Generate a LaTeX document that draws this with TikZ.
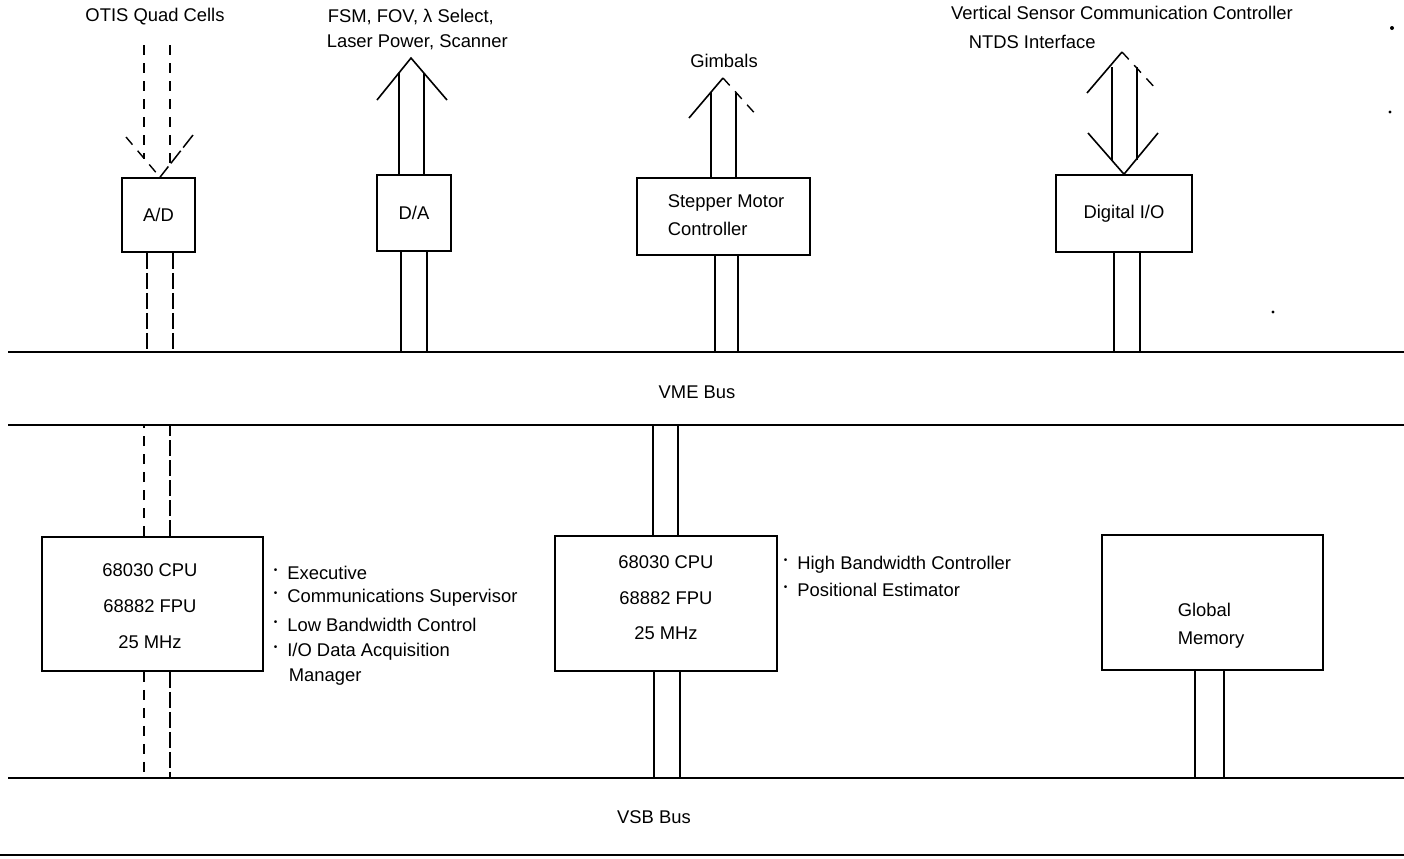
\documentclass[tikz,border=0pt]{standalone}
\usepackage{fontspec}
\setmainfont{Liberation Sans}
\usetikzlibrary{fit,calc}
\newcommand{\blt}{\raisebox{3pt}{\scalebox{0.55}{•}}\hspace{5pt}}
\begin{document}
\begin{tikzpicture}[x=0.5pt,y=-0.5pt,line width=0.8pt,
  box/.style={draw, inner sep=0pt, line width=0.8pt},
  txt/.style={font=\fontsize{9.2}{11}\selectfont, inner sep=0pt},
  ltxt/.style={txt, anchor=west},
  bus/.style={line width=0.9pt},
  link/.style={line width=0.8pt},
  dlink/.style={line width=0.75pt, dash pattern=on 8pt off 2pt},
  sparse/.style={line width=0.7pt, dash pattern=on 5pt off 4pt}]
\useasboundingbox (0,0) rectangle (1404,858);

% bus lines
\coordinate (vmeTL) at (8,352);   \coordinate (vmeTR) at (1404,352);
\coordinate (vmeBL) at (8,425);   \coordinate (vmeBR) at (1404,425);
\coordinate (vsbTL) at (8,778);   \coordinate (vsbTR) at (1404,778);
\coordinate (vsbBL) at (0,855);   \coordinate (vsbBR) at (1404,855);
\draw[bus] (vmeTL) -- (vmeTR);
\draw[bus] (vmeBL) -- (vmeBR);
\draw[bus] (vsbTL) -- (vsbTR);
\draw[bus] (vsbBL) -- (vsbBR);
\node[txt] (vmelbl) at (697,392) {VME Bus};
\node[txt] (vsblbl) at (654,817) {VSB Bus};

% ---------- A/D ----------
\node[box, fit={(122,178)(195,252)}] (ad) {};
\node[txt] (adT) at (ad.center) {A/D};
\draw[dlink] (ad.south -| 147,0) -- (147,352 |- vmeTL);
\draw[dlink] (ad.south -| 173,0) -- (173,352 |- vmeTL);
\coordinate (adTip) at (ad.north -| 160,0);
\coordinate (adArmL) at (126,137);
\coordinate (adArmR) at (193,135);
\draw[sparse] (144,45) -- (144,159);
\draw[sparse] (170,45) -- (170,165);
\draw[sparse] (adArmL) -- (adTip);
\draw[dlink] (adArmR) -- (adTip);
\node[txt] (adlbl) at (155,17) {OTIS Quad Cells};

% ---------- D/A ----------
\node[box, fit={(377,175)(451,251)}] (da) {};
\node[txt] (daT) at (da.center) {D/A};
\draw[link] (da.south -| 401,0) -- (401,0 |- vmeTL);
\draw[link] (da.south -| 427,0) -- (427,0 |- vmeTL);
\coordinate (daTip) at (411,58);
\coordinate (daArmL) at (377,100);
\coordinate (daArmR) at (447,100);
\draw[link] (daArmL) -- (daTip) -- (daArmR);
\draw[link] (da.north -| 399,0) -- (399,73);
\draw[link] (da.north -| 424,0) -- (424,73);
\node[ltxt] (dalbl1) at (327,17) {FSM, FOV, λ Select,};
\node[ltxt] (dalbl2) at (326,42) {Laser Power, Scanner};

% ---------- Stepper Motor Controller ----------
\node[box, fit={(637,178)(810,255)}] (smc) {};
\node[ltxt] (smcT1) at (667,203) {Stepper Motor};
\node[ltxt] (smcT2) at (667,229) {Controller};
\draw[link] (smc.south -| 715,0) -- (715,0 |- vmeTL);
\draw[link] (smc.south -| 738,0) -- (738,0 |- vmeTL);
\coordinate (smTip) at (723,78);
\coordinate (smArmL) at (689,118);
\coordinate (smArmR) at (759,118);
\draw[link] (smArmL) -- (smTip);
\draw[sparse] (smTip) -- (smArmR);
\draw[link] (smc.north -| 711,0) -- (711,92);
\draw[link] (smc.north -| 736,0) -- (736,93);
\node[txt] (smlbl) at (724,61) {Gimbals};

% ---------- Digital I/O ----------
\node[box, fit={(1056,175)(1192,252)}] (dio) {};
\node[txt] (dioT) at (dio.center) {Digital I/O};
\draw[link] (dio.south -| 1114,0) -- (1114,0 |- vmeTL);
\draw[link] (dio.south -| 1140,0) -- (1140,0 |- vmeTL);
\coordinate (dioTipU) at (1122,52);
\coordinate (dioTipD) at (dio.north -| 1124,0);
\draw[link] (1087,93) -- (dioTipU);
\draw[sparse] (dioTipU) -- (1157,90);
\draw[link] (1088,133) -- (dioTipD);
\draw[link] (1158,133) -- (dioTipD);
\draw[link] (1112,67) -- (1112,160);
\draw[link] (1137,67) -- (1137,160);
\node[txt] (diolbl1) at (1122,13) {Vertical Sensor Communication Controller};
\node[ltxt] (diolbl2) at (968,42) {NTDS Interface};

% ---------- left CPU ----------
\node[box, fit={(42,537)(263,671)}] (cpu1) {};
\node[txt] (c1a) at (150,570) {68030 CPU};
\node[txt] (c1b) at (150,606) {68882 FPU};
\node[txt] (c1c) at (150,642) {25 MHz};
\draw[sparse] (cpu1.north -| 144,0) -- (144,0 |- vmeBL);
\draw[dlink] (cpu1.north -| 170,0) -- (170,0 |- vmeBL);
\draw[sparse] (cpu1.south -| 144,0) -- (144,0 |- vsbTL);
\draw[dlink] (cpu1.south -| 170,0) -- (170,0 |- vsbTL);
\node[ltxt] (b1a) at (273,573) {\blt Executive};
\node[ltxt] (b1b) at (273,598) {\blt Communications Supervisor};
\node[ltxt] (b1c) at (273,625) {\blt Low Bandwidth Control};
\node[ltxt] (b1d) at (273,652) {\blt I/O Data Acquisition};
\node[ltxt] (b1e) at (288,677) {Manager};

% ---------- middle CPU ----------
\node[box, fit={(555,536)(777,671)}] (cpu2) {};
\node[txt] (c2a) at (666,562) {68030 CPU};
\node[txt] (c2b) at (666,598) {68882 FPU};
\node[txt] (c2c) at (666,633) {25 MHz};
\draw[link] (cpu2.north -| 653,0) -- (653,0 |- vmeBL);
\draw[link] (cpu2.north -| 678,0) -- (678,0 |- vmeBL);
\draw[link] (cpu2.south -| 654,0) -- (654,0 |- vsbTL);
\draw[link] (cpu2.south -| 680,0) -- (680,0 |- vsbTL);
\node[ltxt] (b2a) at (783,565) {\blt High Bandwidth Controller};
\node[ltxt] (b2b) at (783,590) {\blt Positional Estimator};

% ---------- Global Memory ----------
\node[box, fit={(1102,535)(1323,670)}] (gm) {};
\node[ltxt] (gmT1) at (1177,610) {Global};
\node[ltxt] (gmT2) at (1177,640) {Memory};
\draw[link] (gm.south -| 1195,0) -- (1195,0 |- vsbTL);
\draw[link] (gm.south -| 1224,0) -- (1224,0 |- vsbTL);

% scan specks
\fill (1392,28) circle (1pt);
\fill (1390,112) circle (0.8pt);
\fill (1273,312) circle (0.8pt);
\end{tikzpicture}
\end{document}
